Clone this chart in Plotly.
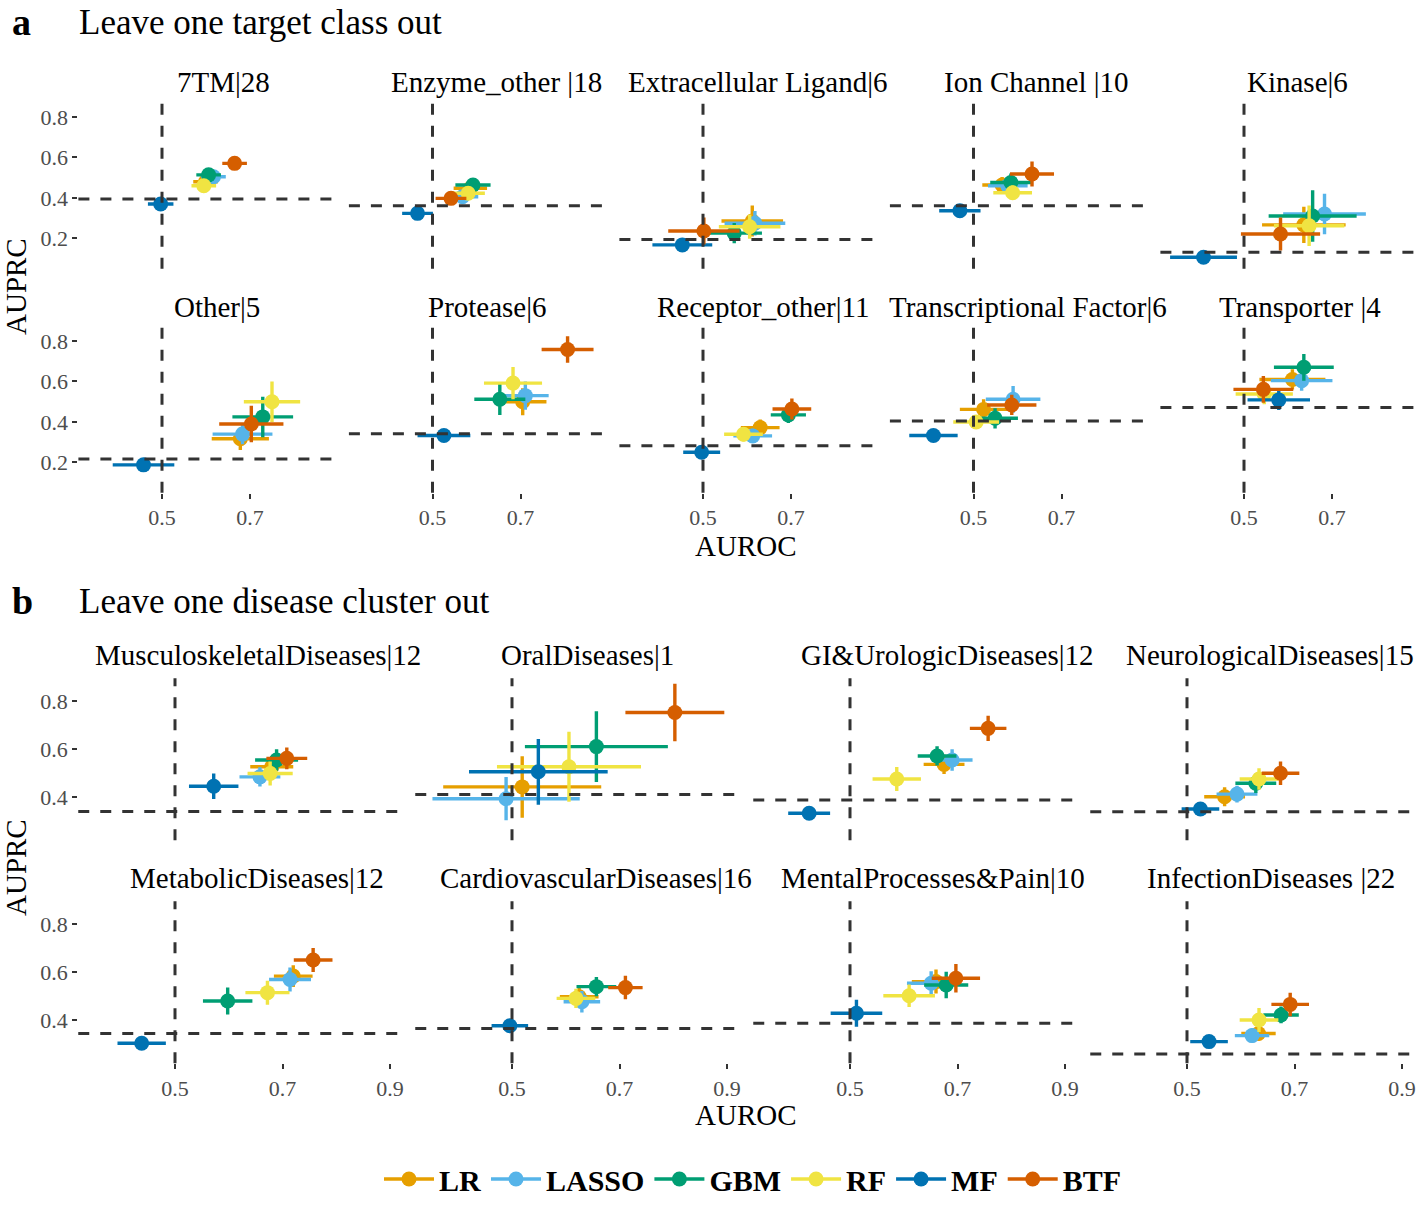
import plotly.graph_objects as go

# ---------------- data ----------------
MODELS = ["LR", "LASSO", "GBM", "RF", "MF", "BTF"]
COLORS = ["#E69F00", "#56B4E9", "#009E73", "#F0E442", "#0072B2", "#D55E00"]

A_CLASSES = ["7TM|28", "Enzyme_other |18", "Extracellular Ligand|6", "Ion Channel |10", "Kinase|6",
             "Other|5", "Protease|6", "Receptor_other|11", "Transcriptional Factor|6", "Transporter |4"]
A_BASELINE = [0.395, 0.362, 0.195, 0.362, 0.132, 0.217, 0.342, 0.282, 0.405, 0.471]

A_AUROC_LR    = [0.599, 0.586, 0.612, 0.565, 0.636, 0.678, 0.705, 0.630, 0.523, 0.610]
A_AUROC_LASSO = [0.617, 0.568, 0.618, 0.578, 0.683, 0.683, 0.711, 0.613, 0.590, 0.631]
A_AUROC_GBM   = [0.606, 0.592, 0.571, 0.585, 0.656, 0.729, 0.653, 0.694, 0.549, 0.636]
A_AUROC_RF    = [0.595, 0.581, 0.606, 0.589, 0.648, 0.750, 0.683, 0.592, 0.506, 0.546]
A_AUROC_MF    = [0.497, 0.466, 0.453, 0.469, 0.408, 0.458, 0.526, 0.497, 0.409, 0.579]
A_AUROC_BTF   = [0.665, 0.542, 0.502, 0.633, 0.583, 0.703, 0.807, 0.702, 0.587, 0.544]

A_AUPRC_LR    = [0.480, 0.448, 0.286, 0.464, 0.267, 0.317, 0.500, 0.372, 0.462, 0.610]
A_AUPRC_LASSO = [0.505, 0.406, 0.275, 0.460, 0.321, 0.340, 0.530, 0.331, 0.512, 0.604]
A_AUPRC_GBM   = [0.514, 0.464, 0.226, 0.476, 0.311, 0.425, 0.512, 0.435, 0.418, 0.670]
A_AUPRC_RF    = [0.460, 0.423, 0.258, 0.426, 0.263, 0.500, 0.592, 0.339, 0.400, 0.538]
A_AUPRC_MF    = [0.370, 0.324, 0.168, 0.337, 0.107, 0.188, 0.333, 0.250, 0.333, 0.509]
A_AUPRC_BTF   = [0.571, 0.398, 0.237, 0.518, 0.222, 0.390, 0.758, 0.464, 0.484, 0.561]

A_AUROC_ERR_LR    = [0.028, 0.038, 0.070, 0.045, 0.095, 0.065, 0.054, 0.044, 0.054, 0.075]
A_AUROC_ERR_LASSO = [0.028, 0.036, 0.069, 0.045, 0.094, 0.068, 0.053, 0.044, 0.062, 0.070]
A_AUROC_ERR_GBM   = [0.028, 0.040, 0.063, 0.047, 0.100, 0.069, 0.058, 0.040, 0.052, 0.068]
A_AUROC_ERR_RF    = [0.028, 0.038, 0.070, 0.044, 0.080, 0.064, 0.066, 0.044, 0.052, 0.065]
A_AUROC_ERR_MF    = [0.029, 0.035, 0.068, 0.047, 0.076, 0.070, 0.060, 0.042, 0.055, 0.071]
A_AUROC_ERR_BTF   = [0.028, 0.035, 0.081, 0.050, 0.090, 0.073, 0.059, 0.044, 0.056, 0.068]

A_AUPRC_ERR_LR    = [0.020, 0.025, 0.077, 0.040, 0.090, 0.055, 0.067, 0.040, 0.050, 0.050]
A_AUPRC_ERR_LASSO = [0.020, 0.025, 0.060, 0.040, 0.100, 0.050, 0.070, 0.035, 0.066, 0.050]
A_AUPRC_ERR_GBM   = [0.022, 0.027, 0.050, 0.045, 0.127, 0.100, 0.078, 0.040, 0.050, 0.066]
A_AUPRC_ERR_RF    = [0.020, 0.025, 0.060, 0.035, 0.100, 0.100, 0.080, 0.035, 0.030, 0.050]
A_AUPRC_ERR_MF    = [0.020, 0.018, 0.020, 0.020, 0.015, 0.020, 0.020, 0.020, 0.020, 0.050]
A_AUPRC_ERR_BTF   = [0.020, 0.025, 0.067, 0.062, 0.082, 0.090, 0.065, 0.052, 0.050, 0.066]

B_CLUSTERS = ["MusculoskeletalDiseases|12", "OralDiseases|1", "GI&UrologicDiseases|12", "NeurologicalDiseases|15",
              "MetabolicDiseases|12", "CardiovascularDiseases|16", "MentalProcesses&Pain|10", "InfectionDiseases |22"]
B_BASELINE = [0.340, 0.410, 0.388, 0.339, 0.344, 0.365, 0.386, 0.258]

B_AUROC_LR    = [0.680, 0.519, 0.675, 0.570, 0.720, 0.625, 0.660, 0.633]
B_AUROC_LASSO = [0.658, 0.489, 0.690, 0.593, 0.714, 0.630, 0.651, 0.621]
B_AUROC_GBM   = [0.689, 0.657, 0.662, 0.628, 0.598, 0.657, 0.679, 0.675]
B_AUROC_RF    = [0.677, 0.606, 0.587, 0.634, 0.672, 0.619, 0.610, 0.634]
B_AUROC_MF    = [0.572, 0.549, 0.424, 0.525, 0.438, 0.496, 0.512, 0.541]
B_AUROC_BTF   = [0.708, 0.803, 0.757, 0.674, 0.757, 0.711, 0.697, 0.692]

B_AUPRC_LR    = [0.526, 0.442, 0.536, 0.401, 0.583, 0.497, 0.560, 0.344]
B_AUPRC_LASSO = [0.484, 0.393, 0.554, 0.412, 0.569, 0.476, 0.553, 0.335]
B_AUPRC_GBM   = [0.554, 0.610, 0.571, 0.457, 0.479, 0.539, 0.546, 0.421]
B_AUPRC_RF    = [0.498, 0.526, 0.475, 0.475, 0.514, 0.490, 0.501, 0.400]
B_AUPRC_MF    = [0.445, 0.505, 0.332, 0.350, 0.303, 0.376, 0.428, 0.310]
B_AUPRC_BTF   = [0.561, 0.752, 0.686, 0.499, 0.650, 0.535, 0.574, 0.465]

B_AUROC_ERR_LR    = [0.040, 0.147, 0.038, 0.038, 0.036, 0.036, 0.045, 0.032]
B_AUROC_ERR_LASSO = [0.038, 0.137, 0.038, 0.038, 0.039, 0.034, 0.045, 0.032]
B_AUROC_ERR_GBM   = [0.040, 0.133, 0.036, 0.038, 0.046, 0.037, 0.041, 0.033]
B_AUROC_ERR_RF    = [0.042, 0.134, 0.045, 0.036, 0.041, 0.036, 0.048, 0.036]
B_AUROC_ERR_MF    = [0.046, 0.129, 0.039, 0.035, 0.045, 0.034, 0.048, 0.035]
B_AUROC_ERR_BTF   = [0.038, 0.092, 0.034, 0.035, 0.036, 0.032, 0.045, 0.035]

B_AUPRC_ERR_LR    = [0.045, 0.128, 0.040, 0.040, 0.045, 0.040, 0.050, 0.030]
B_AUPRC_ERR_LASSO = [0.040, 0.090, 0.045, 0.035, 0.050, 0.045, 0.050, 0.030]
B_AUPRC_ERR_GBM   = [0.045, 0.147, 0.040, 0.040, 0.056, 0.040, 0.055, 0.035]
B_AUPRC_ERR_RF    = [0.050, 0.146, 0.050, 0.045, 0.050, 0.040, 0.047, 0.050]
B_AUPRC_ERR_MF    = [0.053, 0.137, 0.015, 0.020, 0.015, 0.020, 0.056, 0.025]
B_AUPRC_ERR_BTF   = [0.045, 0.120, 0.053, 0.049, 0.050, 0.049, 0.059, 0.049]

A_TICKS_X = [0.5, 0.7]
A_TICKS_Y = [0.2, 0.4, 0.6, 0.8]
B_TICKS_X = [0.5, 0.7, 0.9]
B_TICKS_Y = [0.4, 0.6, 0.8]

A_AUROC = [A_AUROC_LR, A_AUROC_LASSO, A_AUROC_GBM, A_AUROC_RF, A_AUROC_MF, A_AUROC_BTF]
A_AUPRC = [A_AUPRC_LR, A_AUPRC_LASSO, A_AUPRC_GBM, A_AUPRC_RF, A_AUPRC_MF, A_AUPRC_BTF]
A_XERR = [A_AUROC_ERR_LR, A_AUROC_ERR_LASSO, A_AUROC_ERR_GBM, A_AUROC_ERR_RF, A_AUROC_ERR_MF, A_AUROC_ERR_BTF]
A_YERR = [A_AUPRC_ERR_LR, A_AUPRC_ERR_LASSO, A_AUPRC_ERR_GBM, A_AUPRC_ERR_RF, A_AUPRC_ERR_MF, A_AUPRC_ERR_BTF]
B_AUROC = [B_AUROC_LR, B_AUROC_LASSO, B_AUROC_GBM, B_AUROC_RF, B_AUROC_MF, B_AUROC_BTF]
B_AUPRC = [B_AUPRC_LR, B_AUPRC_LASSO, B_AUPRC_GBM, B_AUPRC_RF, B_AUPRC_MF, B_AUPRC_BTF]
B_XERR = [B_AUROC_ERR_LR, B_AUROC_ERR_LASSO, B_AUROC_ERR_GBM, B_AUROC_ERR_RF, B_AUROC_ERR_MF, B_AUROC_ERR_BTF]
B_YERR = [B_AUPRC_ERR_LR, B_AUPRC_ERR_LASSO, B_AUPRC_ERR_GBM, B_AUPRC_ERR_RF, B_AUPRC_ERR_MF, B_AUPRC_ERR_BTF]

# ---------------- layout helpers ----------------
W, H = 1417, 1205
FONT = "Liberation Serif, Times New Roman, serif"
DARK = "#333333"
TICKC = "#4D4D4D"


def fx(p):
    return p / W


def fy(p):
    return 1 - p / H


fig = go.Figure()
layout = {}
shapes = []
annotations = []
n_axes = [0]


def add_panel(left, right, top, bottom, xr, yr, show_x, show_y, xt, yt, title, title_x, title_y,
              xs, ys, xe, ye, baseline):
    n_axes[0] += 1
    n = n_axes[0]
    sfx = "" if n == 1 else str(n)
    layout["xaxis" + sfx] = dict(
        domain=[fx(left), fx(right)], range=xr, anchor="y" + sfx, automargin=False,
        showgrid=False, zeroline=False, showline=False,
        ticks="outside" if show_x else "", ticklen=5, tickwidth=2, tickcolor=DARK,
        tickvals=xt, ticktext=[f"{v:.1f}" for v in xt], showticklabels=show_x,
        tickfont=dict(family=FONT, size=22, color=TICKC), fixedrange=True,
    )
    layout["yaxis" + sfx] = dict(
        domain=[fy(bottom), fy(top)], range=yr, anchor="x" + sfx, automargin=False,
        showgrid=False, zeroline=False, showline=False,
        ticks="outside" if show_y else "", ticklen=5, tickwidth=2, tickcolor=DARK,
        tickvals=yt, ticktext=[f"{v:.1f}" for v in yt], showticklabels=show_y,
        tickfont=dict(family=FONT, size=22, color=TICKC), fixedrange=True,
    )
    for m in range(len(MODELS)):
        c = COLORS[m]
        fig.add_trace(go.Scatter(
            x=[xs[m]], y=[ys[m]], mode="markers",
            marker=dict(size=15, color=c, line=dict(width=0)),
            error_x=dict(type="data", array=[xe[m]], width=0, thickness=3.4, color=c),
            error_y=dict(type="data", array=[ye[m]], width=0, thickness=3.4, color=c),
            xaxis="x" + sfx, yaxis="y" + sfx, showlegend=False, name=MODELS[m],
        ))
    dash_line = dict(color=DARK, width=3, dash="11px,11px")
    shapes.append(dict(type="line", xref="x" + sfx, yref="y" + sfx + " domain",
                       x0=0.5, x1=0.5, y0=0, y1=1, line=dash_line, layer="above"))
    shapes.append(dict(type="line", xref="x" + sfx + " domain", yref="y" + sfx,
                       x0=0, x1=1, y0=baseline, y1=baseline, line=dash_line, layer="above"))
    annotations.append(dict(text=title, x=fx(title_x), y=fy(title_y), xref="paper", yref="paper",
                            xanchor="center", yanchor="middle", showarrow=False,
                            font=dict(family=FONT, size=29, color="black")))


A_XR = [0.31, 0.89]
A_PX_PER = 440.0
A_ZERO5 = [162, 432.5, 703, 973.5, 1244]
A_ROW_TOP = [102.8, 326.8]
A_ROW_H = 166.0
A_YR = [0.05, 0.87]
A_TITLE_X = [223, 496, 757, 1036, 1297, 217, 487, 763, 1028, 1300]
A_TITLE_Y = [82, 307]

for i in range(10):
    r, c = divmod(i, 5)
    left = A_ZERO5[c] - (0.5 - A_XR[0]) * A_PX_PER
    right = left + (A_XR[1] - A_XR[0]) * A_PX_PER
    top = A_ROW_TOP[r]
    bottom = top + A_ROW_H
    add_panel(left, right, top, bottom, A_XR, A_YR, r == 1, c == 0, A_TICKS_X, A_TICKS_Y,
              A_CLASSES[i], A_TITLE_X[i], A_TITLE_Y[r],
              [A_AUROC[m][i] for m in range(6)], [A_AUPRC[m][i] for m in range(6)],
              [A_XERR[m][i] for m in range(6)], [A_YERR[m][i] for m in range(6)], A_BASELINE[i])

B_XR = [0.32, 0.92]
B_PX_PER = 537.5
B_ZERO5 = [175, 512, 850, 1187]
B_ROW_TOP = [678.2, 901.2]
B_ROW_H = 162.0
B_YR = [0.22, 0.895]
B_TITLE_X = [258, 587, 947, 1270, 257, 596, 933, 1271]
B_TITLE_Y = [655, 878]

for i in range(8):
    r, c = divmod(i, 4)
    left = B_ZERO5[c] - (0.5 - B_XR[0]) * B_PX_PER
    right = left + (B_XR[1] - B_XR[0]) * B_PX_PER
    top = B_ROW_TOP[r]
    bottom = top + B_ROW_H
    add_panel(left, right, top, bottom, B_XR, B_YR, r == 1, c == 0, B_TICKS_X, B_TICKS_Y,
              B_CLUSTERS[i], B_TITLE_X[i], B_TITLE_Y[r],
              [B_AUROC[m][i] for m in range(6)], [B_AUPRC[m][i] for m in range(6)],
              [B_XERR[m][i] for m in range(6)], [B_YERR[m][i] for m in range(6)], B_BASELINE[i])

for m in range(len(MODELS)):
    fig.add_trace(go.Scatter(
        x=[None], y=[None], mode="lines+markers", name=MODELS[m],
        line=dict(color=COLORS[m], width=3.4), marker=dict(size=15, color=COLORS[m]),
        xaxis="x", yaxis="y", showlegend=True,
    ))


def ann(text, x, y, size, bold=False, xanchor="left", angle=0):
    annotations.append(dict(text=text, x=fx(x), y=fy(y), xref="paper", yref="paper",
                            xanchor=xanchor, yanchor="middle", showarrow=False, textangle=angle,
                            font=dict(family=FONT, size=size, color="black",
                                      weight="bold" if bold else "normal")))


ann("a", 10, 22, 38, bold=True)
ann("Leave one target class out", 77, 22, 35)
ann("b", 10, 601, 38, bold=True)
ann("Leave one disease cluster out", 77, 601, 35)
ann("AUROC", 746, 546, 29, xanchor="center")
ann("AUROC", 746, 1115, 29, xanchor="center")
ann("AUPRC", 16, 287, 29, xanchor="center", angle=-90)
ann("AUPRC", 16, 868, 29, xanchor="center", angle=-90)

layout.update(dict(
    width=W, height=H, margin=dict(l=0, r=0, t=0, b=0, autoexpand=False),
    paper_bgcolor="white", plot_bgcolor="white",
    shapes=shapes, annotations=annotations,
    showlegend=True,
    legend=dict(orientation="h", xref="container", yref="container",
                x=fx(753), xanchor="center", y=0, yanchor="bottom",
                font=dict(family=FONT, size=30, color="black", weight="bold"),
                itemwidth=50, traceorder="normal", bgcolor="rgba(0,0,0,0)"),
    font=dict(family=FONT),
))
fig.update_layout(**layout)

POST = ("document.body.style.margin='0';document.body.style.padding='0';"
        "document.body.style.overflow='hidden';document.documentElement.style.overflow='hidden';")
fig.write_html("out.html", config={"displayModeBar": False}, post_script=POST)
